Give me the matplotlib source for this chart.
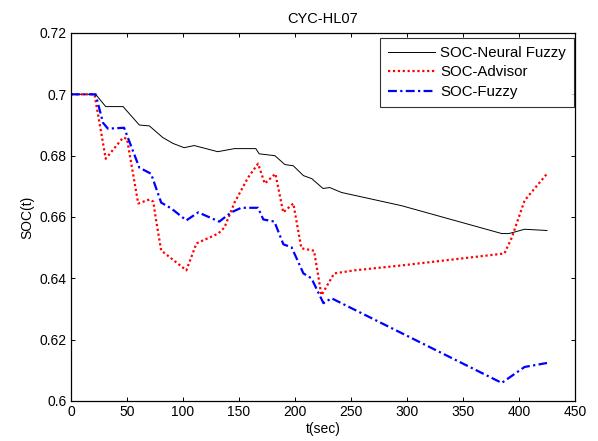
import numpy as np
import matplotlib
matplotlib.use('Agg')
import matplotlib.pyplot as plt

plt.rcParams['font.family'] = ['Liberation Sans', 'DejaVu Sans']

# SOC-Neural Fuzzy (black solid)
t_nf = [0, 22, 31, 46.5, 61, 70, 82, 91, 101, 110, 131, 146, 165, 168, 182, 191,
        198.5, 207.5, 215, 225, 231, 241.5, 295, 384.6, 391, 405, 425]
soc_nf = [0.700, 0.700, 0.696, 0.696, 0.690, 0.6897, 0.6859, 0.684, 0.6826, 0.6833,
          0.6813, 0.6823, 0.6823, 0.6806, 0.680, 0.6771, 0.6767, 0.6735, 0.6725,
          0.6693, 0.6696, 0.668, 0.6637, 0.6546, 0.6546, 0.656, 0.6556]

# SOC-Advisor (red dotted)
t_adv = [0, 21, 31, 46.5, 50, 60, 70, 73.5, 76, 80.5, 89.5, 103, 112, 131.5, 137,
         146, 158, 167, 173, 182.5, 189.5, 198.5, 205.7, 217, 223.6, 235, 253, 295,
         387, 393.6, 405, 425]
soc_adv = [0.700, 0.700, 0.679, 0.6859, 0.6855, 0.6644, 0.6657, 0.665, 0.6589, 0.6491,
           0.6465, 0.6426, 0.6514, 0.6546, 0.6566, 0.6647, 0.6728, 0.6774, 0.6709,
           0.6741, 0.6615, 0.6644, 0.6498, 0.649, 0.6345, 0.6416, 0.6426, 0.6442,
           0.6481, 0.6533, 0.6654, 0.6741]

# SOC-Fuzzy (blue dash-dot)
t_fz = [0, 22, 28.6, 33, 47.4, 61, 71.5, 80.5, 89.5, 103, 113.6, 132.4, 143, 152,
        167, 171.7, 181.6, 189.6, 197, 207.5, 214.7, 225.4, 232.6, 384.6, 405, 425]
soc_fz = [0.700, 0.700, 0.6907, 0.6888, 0.6891, 0.6761, 0.6741, 0.6647, 0.6628, 0.6589,
          0.6615, 0.6585, 0.6615, 0.663, 0.663, 0.6592, 0.6585, 0.6511, 0.6501, 0.6416,
          0.640, 0.6319, 0.6335, 0.6059, 0.6111, 0.6124]

fig = plt.figure(figsize=(5.98, 4.41), dpi=100)
ax = fig.add_axes([71 / 598, 40 / 441, 504 / 598, 368 / 441])

ax.plot(t_nf, soc_nf, color='black', linewidth=0.7, label='SOC-Neural Fuzzy')
ax.plot(t_adv, soc_adv, color='red', linestyle=(0, (1, 1.2)), linewidth=1.6,
        label='SOC-Advisor')
ax.plot(t_fz, soc_fz, color='blue', linestyle=(0, (4, 1.5, 1, 1.5)), linewidth=1.6,
        label='SOC-Fuzzy')

ax.set_xlim(0, 450)
ax.set_ylim(0.6, 0.72)
ax.set_xticks(np.arange(0, 451, 50))
ax.set_yticks([0.6, 0.62, 0.64, 0.66, 0.68, 0.7, 0.72])
ax.set_yticklabels(['0.6', '0.62', '0.64', '0.66', '0.68', '0.7', '0.72'])
ax.tick_params(direction='in', top=True, right=True, labelsize=10, length=3,
               width=0.7, pad=3)
for s in ax.spines.values():
    s.set_linewidth(0.9)

ax.set_xlabel('t(sec)', fontsize=10, labelpad=2)
ax.set_ylabel('SOC(t)', fontsize=10, labelpad=4)
ax.set_title('CYC-HL07', fontsize=10.5, pad=7)

leg = ax.legend(loc='upper right', bbox_to_anchor=(1 - 1 / 504, 1 - 5 / 368),
                borderaxespad=0, fontsize=10.8, fancybox=False, edgecolor='black',
                handlelength=3.1, borderpad=0.55, labelspacing=0.35,
                handletextpad=0.35)
leg.get_frame().set_linewidth(0.8)

fig.savefig('out.png', dpi=100)
